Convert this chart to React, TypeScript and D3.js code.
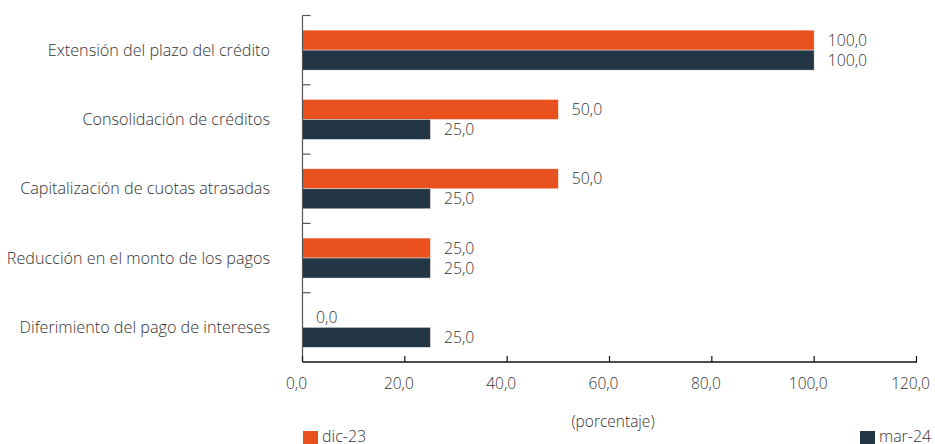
import React from "react";
import * as d3 from "d3";

const categories = [
  "Extensión del plazo del crédito",
  "Consolidación de créditos",
  "Capitalización de cuotas atrasadas",
  "Reducción en el monto de los pagos",
  "Diferimiento del pago de intereses",
];
const dic23 = [100, 50, 50, 25, 0];
const mar24 = [100, 25, 25, 25, 25];
const seriesNames = ["dic-23", "mar-24"];
const xTicks = [0, 20, 40, 60, 80, 100, 120];

const W = 935;
const H = 444;
const colors = ["#E8501E", "#223645"];
const fmt = (v: number) => v.toFixed(1).replace(".", ",");
const font = "'Open Sans', sans-serif";
const fw = 300;

export default function App() {
  const x = d3.scaleLinear().domain([0, 120]).range([302.5, 916.5]);
  const y = d3.scaleBand().domain(categories).range([15.5, 362]).paddingInner(0).paddingOuter(0);
  const barH = 20;
  const series = [dic23, mar24];
  return (
    <svg width={W} height={H} style={{ position: "absolute", left: 0, top: 0 }}>
      {categories.map((c, i) => {
        const cy = (y(c) as number) + y.bandwidth() / 2;
        return (
          <g key={c}>
            <text x={270} y={cy} dy="0.35em" textAnchor="end" fontFamily={font} fontWeight={fw} fontSize={16.2} fill="#333">
              {c}
            </text>
            {series.map((s, j) => {
              const by = cy - barH + j * barH;
              return (
                <g key={j}>
                  <rect
                    x={x(0)}
                    y={by}
                    width={x(s[i]) - x(0)}
                    height={barH}
                    fill={colors[j]}
                    stroke="#ffffff"
                    strokeOpacity={0.6}
                    strokeWidth={0.7}
                  />
                  <text
                    x={x(s[i]) + 13.5}
                    y={by + barH / 2}
                    dy="0.35em"
                    fontFamily={font}
                    fontWeight={fw}
                    fontSize={15.8}
                    fill="#333"
                  >
                    {fmt(s[i])}
                  </text>
                </g>
              );
            })}
          </g>
        );
      })}
      {/* y axis */}
      <line x1={x(0)} x2={x(0)} y1={15.5} y2={362} stroke="#555" strokeWidth={1.2} />
      {categories.map((c) => (
        <line key={c} x1={x(0)} x2={x(0) + 8} y1={y(c) as number} y2={y(c) as number} stroke="#555" strokeWidth={1.2} />
      ))}
      {/* x axis */}
      <line x1={x(0)} x2={x(120) + 0.5} y1={362} y2={362} stroke="#111" strokeWidth={1.3} />
      {xTicks.map((t) => (
        <g key={t}>
          <line x1={x(t)} x2={x(t)} y1={362} y2={356} stroke="#111" strokeWidth={1.2} />
          <text x={x(t) - 6} y={384} dy="0.35em" textAnchor="middle" fontFamily={font} fontWeight={fw} fontSize={15.5} fill="#333">
            {fmt(t)}
          </text>
        </g>
      ))}
      <text x={613} y={422} dy="0.35em" textAnchor="middle" fontFamily={font} fontWeight={fw} fontSize={15.5} fill="#333">
        (porcentaje)
      </text>
      {/* legend */}
      <rect x={303} y={431} width={15} height={14} fill={colors[0]} />
      <text x={322} y={441.5} fontFamily={font} fontWeight={fw} fontSize={16} fill="#333">
        {seriesNames[0]}
      </text>
      <rect x={860} y={431} width={15} height={14} fill={colors[1]} />
      <text x={879} y={441.5} fontFamily={font} fontWeight={fw} fontSize={16} fill="#333">
        {seriesNames[1]}
      </text>
    </svg>
  );
}
